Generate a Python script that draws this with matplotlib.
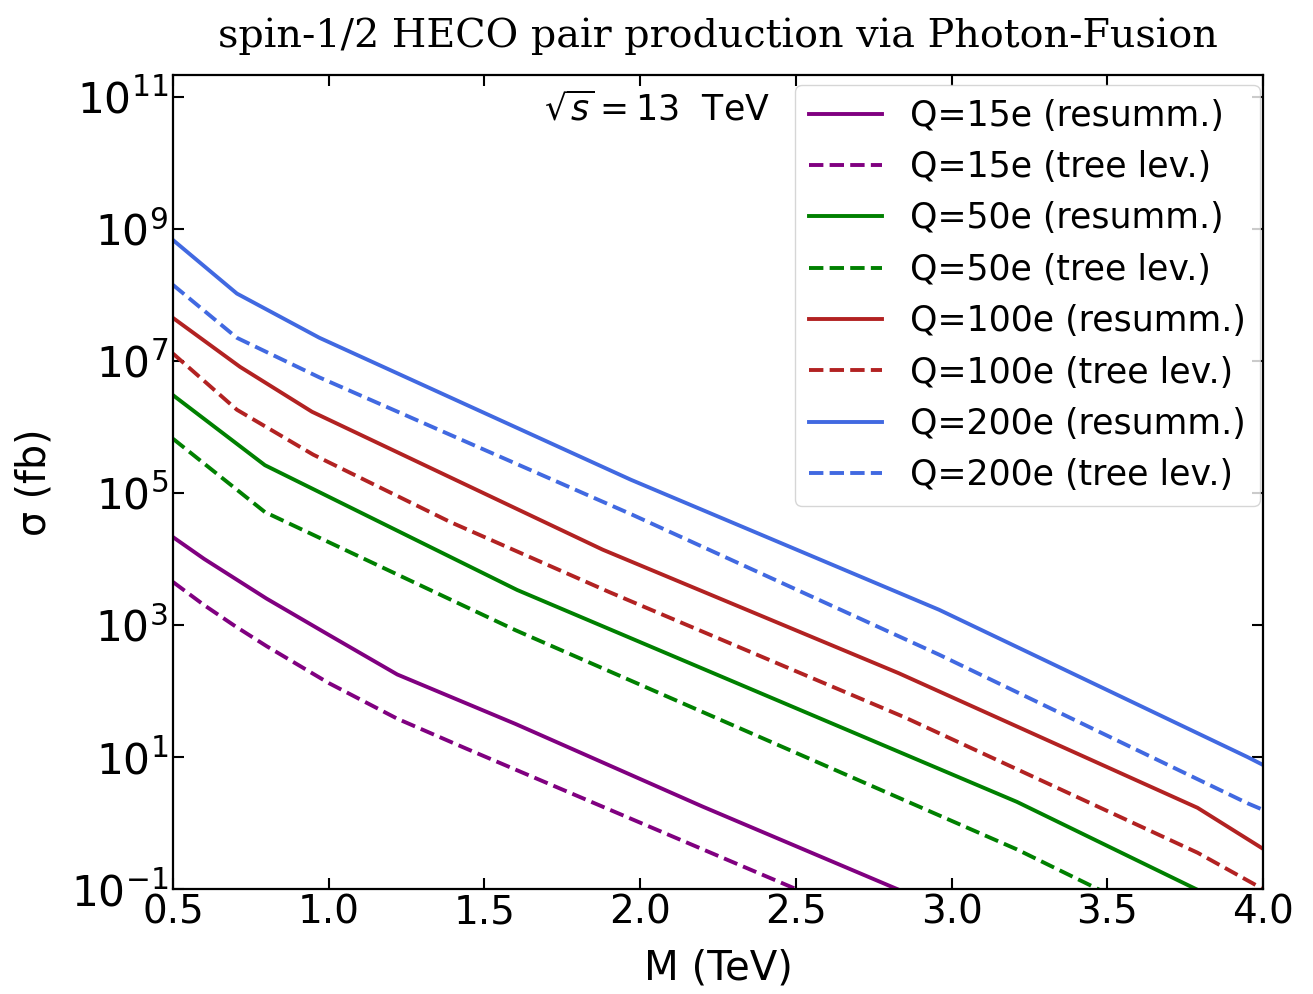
import numpy as np
import matplotlib
matplotlib.use("Agg")
import matplotlib.pyplot as plt

# cross sections, log10(sigma / fb) vs M (TeV)
m_q15_res = [0.5, 0.6, 0.7, 0.8, 1.0, 1.22, 1.6, 2.2, 2.9]
lg_q15_res = [4.33, 4.0, 3.7, 3.4, 2.85, 2.25, 1.5, 0.25, -1.15]
m_q15_tree = [0.5, 0.6, 0.7, 0.8, 1.0, 1.22, 1.44, 2.6]
lg_q15_tree = [3.65, 3.3, 2.98, 2.68, 2.12, 1.58, 1.13, -1.2]

m_q50_res = [0.5, 0.795, 1.605, 3.21, 3.85]
lg_q50_res = [6.48, 5.42, 3.53, 0.32, -1.15]
m_q50_tree = [0.5, 0.795, 1.6, 3.21, 3.6]
lg_q50_tree = [5.82, 4.71, 2.92, -0.4, -1.3]

m_q100_res = [0.5, 0.715, 0.946, 1.88, 2.83, 3.79, 4.0]
lg_q100_res = [7.65, 6.91, 6.23, 4.14, 2.27, 0.23, -0.39]
m_q100_tree = [0.5, 0.705, 0.95, 1.39, 1.9, 2.85, 3.79, 4.0]
lg_q100_tree = [7.11, 6.26, 5.58, 4.56, 3.5, 1.6, -0.45, -1.0]

m_q200_res = [0.5, 0.705, 0.97, 1.97, 2.96, 3.95, 4.0]
lg_q200_res = [8.83, 8.02, 7.35, 5.2, 3.23, 1.0, 0.88]
m_q200_tree = [0.5, 0.705, 0.97, 1.97, 2.96, 3.95, 4.0]
lg_q200_tree = [8.15, 7.35, 6.75, 4.68, 2.55, 0.3, 0.2]

series = [
    (m_q15_res, lg_q15_res, 'purple', '-', 'Q=15e (resumm.)'),
    (m_q15_tree, lg_q15_tree, 'purple', '--', 'Q=15e (tree lev.)'),
    (m_q50_res, lg_q50_res, 'green', '-', 'Q=50e (resumm.)'),
    (m_q50_tree, lg_q50_tree, 'green', '--', 'Q=50e (tree lev.)'),
    (m_q100_res, lg_q100_res, 'firebrick', '-', 'Q=100e (resumm.)'),
    (m_q100_tree, lg_q100_tree, 'firebrick', '--', 'Q=100e (tree lev.)'),
    (m_q200_res, lg_q200_res, 'royalblue', '-', 'Q=200e (resumm.)'),
    (m_q200_tree, lg_q200_tree, 'royalblue', '--', 'Q=200e (tree lev.)'),
]

fig = plt.figure(figsize=(13.13, 9.94), dpi=100)
ax = fig.add_axes([0.1318, 0.1056, 0.8301, 0.8189])

for m, lg, c, ls, lab in series:
    ax.plot(m, 10.0 ** np.array(lg), color=c, linestyle=ls, linewidth=2.8, label=lab)

ax.set_yscale('log')
ax.set_xlim(0.5, 4.0)
ax.set_ylim(0.1, 10 ** 11.33)
ax.set_yticks([10.0 ** k for k in range(-1, 12, 2)])
ax.minorticks_off()
ax.tick_params(direction='in', top=True, right=True, length=8, width=1.5)
ax.tick_params(axis='x', labelsize=28)
ax.tick_params(axis='y', labelsize=30.5)
for sp in ax.spines.values():
    sp.set_linewidth(1.6)

ax.set_xlabel('M (TeV)', fontsize=29, labelpad=12)
ax.set_ylabel('σ (fb)', fontsize=28.5, labelpad=12)
ax.set_title('spin-1/2 HECO pair production via Photon-Fusion', family='DejaVu Serif',
             fontsize=28.5, pad=20)
ax.text(0.548, 0.957, r'$\sqrt{s} = 13$  TeV', transform=ax.transAxes,
        ha='right', va='center', fontsize=25)
ax.legend(loc='upper right', bbox_to_anchor=(0.997, 0.988), borderaxespad=0,
          fontsize=25, handlelength=2.1)

fig.savefig('out.png', dpi=100)
